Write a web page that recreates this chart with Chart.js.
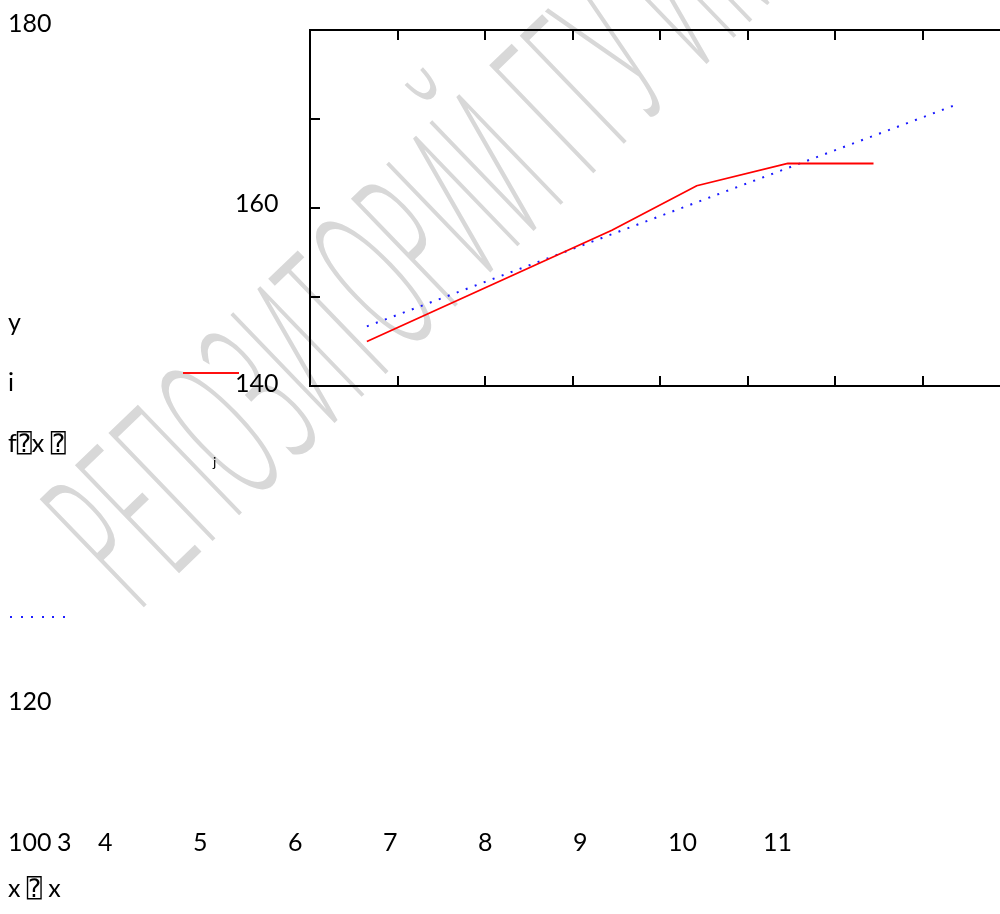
<!DOCTYPE html>
<html>
<head>
<meta charset="utf-8">
<script src="https://cdn.jsdelivr.net/npm/chart.js@4.4.1/dist/chart.umd.min.js"></script>
<style>
  html, body { margin: 0; padding: 0; background: #fff; overflow: hidden; width: 1000px; height: 914px; }
  #wrap { position: relative; width: 1000px; height: 914px; overflow: hidden; }
  #chart { position: absolute; left: 0; top: 0; z-index: 2; }
  .lbl { position: absolute; z-index: 3; white-space: pre; color: #000; line-height: 1.2;
         font-family: Lato, "DejaVu Sans Mono", "DejaVu Sans", sans-serif; }
  #wm { position: absolute; z-index: 1; left: 140px; top: 615px; transform-origin: 0 0;
        transform: rotate(-44deg); white-space: pre; }
  #wm span { display: inline-block; transform-origin: 0 0; transform: translateY(-0.9em) scaleX(0.38);
        font-family: "Open Sans", "DejaVu Sans", sans-serif; font-weight: 300; font-size: 210px; line-height: 1;
        color: #d8d8d8; letter-spacing: 0.03em; }
  #legRed { position: absolute; z-index: 3; left: 183px; top: 372px; width: 56px; height: 2px; background: #ff1010; }
  #legBlue { position: absolute; z-index: 3; left: 10px; top: 616px; width: 56px; height: 2px;
        background: repeating-linear-gradient(90deg, #2020ff 0 2px, transparent 2px 10.6px); }
</style>
</head>
<body>
<div id="wrap">
  <div id="wm"><span>РЕПОЗИТОРИЙ ГГУ ИМЕНИ Ф. СКОРИНЫ</span></div>
  <canvas id="chart" width="1020" height="914"></canvas>
  <div id="legRed"></div>
  <div id="legBlue"></div>
</div>
<script>
// measured data y_i (red) and fitted f(x_j) (blue dotted)
var xData = [3.65, 6.45, 7.42, 8.46, 9.44];
var yData = [145, 157.5, 162.5, 165, 165];
var xFit = [3.65, 10.41];
var yFit = [146.7, 171.7];

var xMin = 3, xMax = 11;
var yMin = 140, yMax = 180;
var xTicks = [4, 5, 6, 7, 8, 9, 10];
var yTicks = [150, 160, 170];

// stray labels as they sit on the page
var yTickLabels = ['180', '160', '140', '120', '100'];
var xTickLabels = ['3', '4', '5', '6', '7', '8', '9', '10', '11'];
var axisTexts = ['y', 'i', 'f\u2370x \u2370', 'j', 'x \u2370 x'];

var yLabelPos = [[8, 32], [235, 212], [235, 392], [8, 710], [8, 851]];
var xLabelPos = [57, 98, 193, 288, 383, 478, 573, 668, 763];
var axisTextPos = [[8, 331], [8, 391], [8, 452, 25], [213, 468, 14], [8, 897, 25]];

function place(text, x, base, size) {
  var d = document.createElement('div');
  d.className = 'lbl';
  d.textContent = text;
  d.style.fontSize = size + 'px';
  d.style.left = x + 'px';
  d.style.top = (base - 0.987 * size) + 'px';
  document.getElementById('wrap').appendChild(d);
}

yTickLabels.forEach(function (t, i) { place(t, yLabelPos[i][0], yLabelPos[i][1], 25); });
xTickLabels.forEach(function (t, i) { place(t, xLabelPos[i], 851, 25); });
axisTexts.forEach(function (t, i) {
  var p = axisTextPos[i];
  place(t, p[0], p[1], p[2] || 25);
});

function pts(xs, ys) {
  return xs.map(function (x, i) { return { x: x, y: ys[i] }; });
}

var frame = {
  id: 'frame',
  afterDatasetsDraw: function (chart) {
    var c = chart.ctx, a = chart.chartArea;
    var sx = chart.scales.x, sy = chart.scales.y;
    c.save();
    c.strokeStyle = '#000';
    c.lineWidth = 2;
    c.strokeRect(a.left, a.top, a.right - a.left, a.bottom - a.top);
    c.beginPath();
    xTicks.forEach(function (v) {
      var px = Math.round(sx.getPixelForValue(v));
      c.moveTo(px, a.top); c.lineTo(px, a.top + 10);
      c.moveTo(px, a.bottom); c.lineTo(px, a.bottom - 10);
    });
    yTicks.forEach(function (v) {
      var py = Math.round(sy.getPixelForValue(v));
      c.moveTo(a.left, py); c.lineTo(a.left + 10, py);
      c.moveTo(a.right, py); c.lineTo(a.right - 10, py);
    });
    c.stroke();
    c.restore();
  }
};

new Chart(document.getElementById('chart'), {
  type: 'scatter',
  data: {
    datasets: [
      {
        label: 'y',
        data: pts(xData, yData),
        showLine: true,
        borderColor: '#ff0000',
        borderWidth: 1.8,
        pointRadius: 0,
        tension: 0
      },
      {
        label: 'f(x)',
        data: pts(xFit, yFit),
        showLine: true,
        borderColor: '#1a1aff',
        borderWidth: 2,
        borderDash: [2, 7.6],
        borderCapStyle: 'butt',
        pointRadius: 0,
        tension: 0
      }
    ]
  },
  options: {
    responsive: false,
    animation: false,
    devicePixelRatio: 1,
    layout: { padding: { left: 310, top: 30, right: 10, bottom: 528 } },
    plugins: { legend: { display: false }, tooltip: { enabled: false } },
    scales: {
      x: { type: 'linear', min: xMin, max: xMax, display: false },
      y: { type: 'linear', min: yMin, max: yMax, display: false }
    }
  },
  plugins: [frame]
});
</script>
</body>
</html>
